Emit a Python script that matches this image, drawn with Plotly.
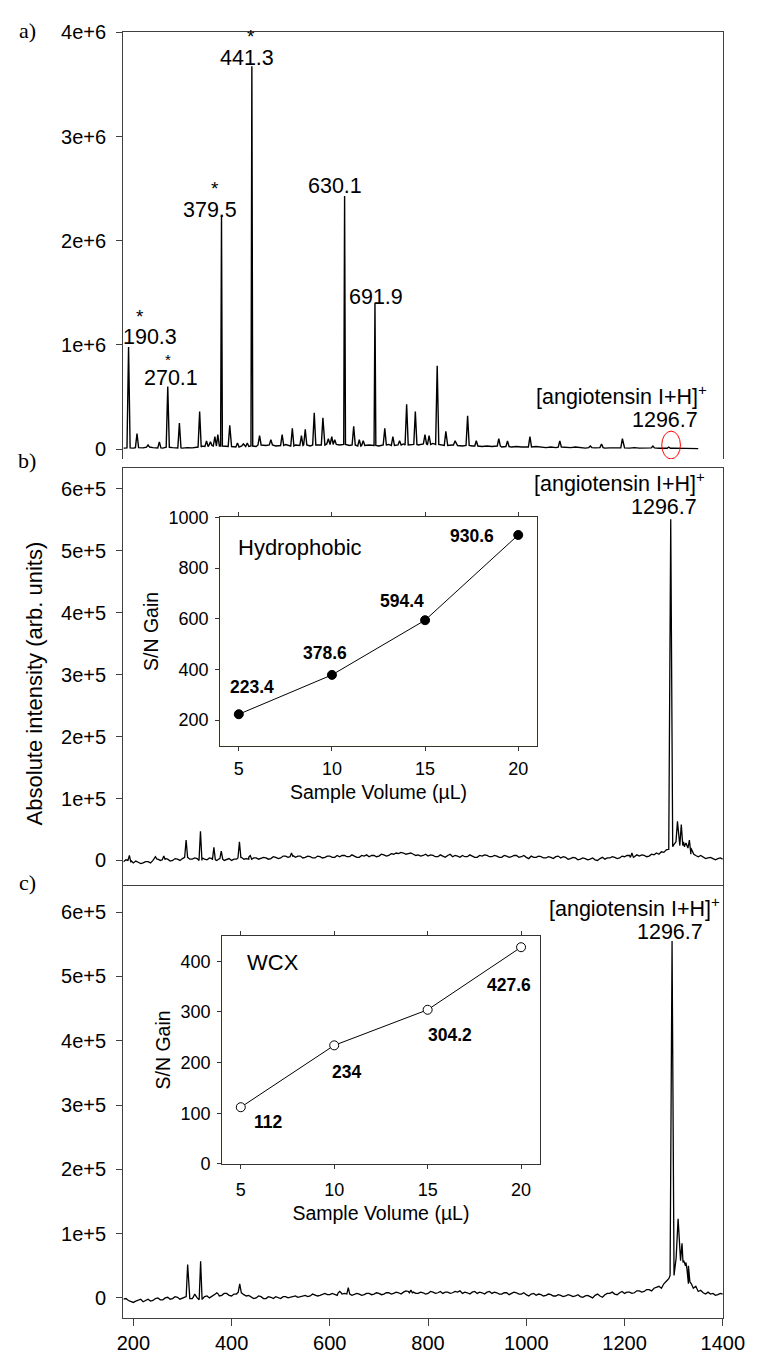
import plotly.graph_objects as go

W, H = 766, 1365

# ---------------- DATA ----------------
# Panel a: MALDI spectrum, intensity in units of 1e6
a_base_mz = list(range(180, 1351, 10))
a_base_int = [
    0.010, 0.012, 0.010, 0.015, 0.012, 0.020, 0.015, 0.012, 0.010, 0.018,
    0.015, 0.012, 0.010, 0.015, 0.012, 0.020, 0.030, 0.025, 0.035, 0.030,
    0.030, 0.030, 0.025, 0.020, 0.030, 0.025, 0.030, 0.025, 0.040, 0.035,
    0.040, 0.030, 0.035, 0.045, 0.030, 0.040, 0.035, 0.040, 0.030, 0.040,
    0.045, 0.040, 0.050, 0.045, 0.040, 0.045, 0.035, 0.040, 0.030, 0.035,
    0.040, 0.035, 0.030, 0.040, 0.045, 0.035, 0.040, 0.050, 0.040, 0.045,
    0.040, 0.050, 0.045, 0.055, 0.045, 0.040, 0.035, 0.040, 0.035, 0.030,
    0.035, 0.030, 0.030, 0.025, 0.030, 0.025, 0.030, 0.020, 0.025, 0.020,
    0.025, 0.020, 0.025, 0.020, 0.025, 0.020, 0.015, 0.020, 0.015, 0.020,
    0.015, 0.015, 0.020, 0.015, 0.010, 0.015, 0.012, 0.015, 0.010, 0.012,
    0.012, 0.010, 0.012, 0.010, 0.015, 0.010, 0.008, 0.010, 0.012, 0.008,
    0.010, 0.008, 0.010, 0.008, 0.006, 0.008, 0.006, 0.005,
]
a_peak_mz = [190.3, 207.5, 230, 253, 270.1, 293.8, 335, 349, 357, 366, 372, 379.5,
             396.3, 412, 424, 432, 441.3, 457, 480, 503, 523.7, 542.2, 550, 568.3,
             585.9, 597, 604, 610, 630.1, 648.6, 660, 668, 691.9, 711.9, 728.4, 742,
             756.4, 774.1, 793.7, 802.1, 818.6, 836.2, 855, 880.5, 898.2, 944, 961.7,
             1007.4, 1068.2, 1130.3, 1153.1, 1195.6, 1257.7, 1290]
a_peak_int = [0.98, 0.15, 0.04, 0.07, 0.60, 0.25, 0.36, 0.08, 0.07, 0.12, 0.14, 2.24,
              0.23, 0.06, 0.05, 0.06, 3.675, 0.13, 0.09, 0.14, 0.20, 0.13, 0.19, 0.35,
              0.30, 0.10, 0.12, 0.09, 2.43, 0.22, 0.09, 0.08, 1.40, 0.20, 0.12, 0.08,
              0.43, 0.36, 0.14, 0.13, 0.80, 0.17, 0.08, 0.32, 0.08, 0.10, 0.08,
              0.12, 0.08, 0.03, 0.05, 0.10, 0.03, 0.02]
a_labelled = [190.3, 270.1, 379.5, 441.3, 630.1, 691.9]
a_starred = [190.3, 270.1, 379.5, 441.3]

# Panel b: after hydrophobic enrichment, intensity in units of 1e5 (baseline every 5 m/z)
b_base_mz = list(range(180, 1401, 5))
b_base_int = [
    -0.02, 0.01, 0.00, -0.03, -0.04, -0.01, -0.03, -0.05, -0.04, -0.02,
    -0.02, -0.04, 0.00, 0.02, 0.02, 0.00, 0.01, 0.03, 0.02, -0.01,
    0.00, 0.03, 0.02, 0.00, 0.03, 0.05, 0.05, 0.02, 0.02, 0.04,
    0.03, 0.00, 0.04, 0.02, 0.01, 0.04, 0.03, 0.01, 0.00, 0.03,
    0.02, 0.00, 0.01, 0.03, 0.00, 0.02, 0.02, 0.04, 0.05, 0.02,
    0.03, 0.05, 0.02, 0.04, 0.04, 0.02, 0.03, 0.05, 0.04, 0.02,
    0.03, 0.06, 0.05, 0.03, 0.04, 0.07, 0.07, 0.05, 0.06, 0.08,
    0.05, 0.07, 0.07, 0.04, 0.05, 0.07, 0.06, 0.04, 0.04, 0.07,
    0.06, 0.04, 0.05, 0.07, 0.07, 0.05, 0.05, 0.08, 0.06, 0.08,
    0.08, 0.06, 0.06, 0.09, 0.07, 0.05, 0.05, 0.08, 0.07, 0.09,
    0.06, 0.08, 0.08, 0.06, 0.07, 0.10, 0.09, 0.07, 0.08, 0.11,
    0.10, 0.12, 0.11, 0.13, 0.12, 0.10, 0.11, 0.12, 0.10, 0.08,
    0.09, 0.07, 0.08, 0.10, 0.07, 0.09, 0.08, 0.06, 0.06, 0.09,
    0.07, 0.05, 0.08, 0.10, 0.06, 0.08, 0.07, 0.05, 0.08, 0.06,
    0.06, 0.09, 0.07, 0.05, 0.05, 0.08, 0.07, 0.09, 0.08, 0.06,
    0.06, 0.08, 0.07, 0.05, 0.05, 0.08, 0.07, 0.05, 0.06, 0.08,
    0.08, 0.05, 0.06, 0.08, 0.05, 0.03, 0.07, 0.05, 0.05, 0.07,
    0.06, 0.04, 0.04, 0.06, 0.05, 0.03, 0.06, 0.07, 0.04, 0.06,
    0.05, 0.02, 0.03, 0.05, 0.04, 0.01, 0.02, 0.04, 0.03, 0.01,
    0.02, 0.04, 0.01, 0.00, 0.03, 0.05, 0.02, 0.04, 0.04, 0.06,
    0.05, 0.03, 0.04, 0.07, 0.06, 0.08, 0.08, 0.05, 0.06, 0.09,
    0.07, 0.09, 0.08, 0.06, 0.07, 0.10, 0.09, 0.12, 0.10, 0.14,
    0.13, 0.17, 0.18, 0.22, 0.25, 0.28, 0.30, 0.24, 0.25, 0.22,
    0.20, 0.15, 0.10, 0.08, 0.06, 0.08, 0.05, 0.03, 0.04, 0.05,
    0.03, 0.01, 0.03, 0.04, 0.02,
]
b_peak_mz = [192, 245, 262, 307.5, 336.7, 364, 379, 416, 438, 522, 1215,
             1294, 1307.7, 1315.5, 1320, 1325, 1332, 1338]
b_peak_int = [0.08, 0.06, 0.07, 0.33, 0.47, 0.21, 0.15, 0.30, 0.08, 0.12, 0.12,
              5.51, 0.63, 0.58, 0.30, 0.28, 0.33, 0.15]

# Panel c: after WCX enrichment, intensity in units of 1e5 (baseline every 5 m/z)
c_base_mz = list(range(180, 1401, 5))
c_base_int = [
    -0.02, -0.01, -0.04, -0.06, -0.07, -0.05, -0.04, -0.02, -0.06, -0.04,
    -0.02, -0.05, -0.04, -0.01, 0.00, -0.03, -0.03, 0.00, 0.01, -0.02,
    -0.01, 0.02, 0.01, -0.02, 0.00, 0.02, 0.02, -0.01, -0.01, 0.01,
    0.00, -0.03, -0.02, 0.02, 0.03, 0.00, 0.02, 0.05, 0.06, 0.03,
    0.04, 0.07, 0.07, 0.04, 0.03, 0.06, 0.06, 0.09, 0.08, 0.05,
    0.03, 0.04, 0.02, -0.01, 0.00, 0.03, 0.02, -0.01, -0.01, 0.02,
    0.01, -0.01, 0.02, 0.00, -0.01, 0.02, 0.02, 0.00, 0.01, 0.03,
    0.03, 0.01, 0.02, 0.04, 0.04, 0.02, 0.03, 0.06, 0.05, 0.03,
    0.04, 0.06, 0.07, 0.05, 0.05, 0.07, 0.06, 0.04, 0.08, 0.06,
    0.07, 0.09, 0.06, 0.04, 0.05, 0.07, 0.06, 0.04, 0.05, 0.07,
    0.07, 0.05, 0.06, 0.08, 0.07, 0.05, 0.06, 0.08, 0.08, 0.06,
    0.07, 0.09, 0.08, 0.06, 0.09, 0.11, 0.10, 0.08, 0.09, 0.07,
    0.07, 0.09, 0.08, 0.06, 0.07, 0.10, 0.09, 0.07, 0.08, 0.10,
    0.07, 0.09, 0.09, 0.07, 0.08, 0.10, 0.09, 0.11, 0.07, 0.09,
    0.08, 0.06, 0.09, 0.10, 0.07, 0.09, 0.08, 0.06, 0.09, 0.10,
    0.07, 0.09, 0.08, 0.06, 0.06, 0.08, 0.08, 0.05, 0.07, 0.09,
    0.08, 0.06, 0.06, 0.08, 0.05, 0.03, 0.06, 0.07, 0.04, 0.06,
    0.05, 0.03, 0.04, 0.06, 0.05, 0.03, 0.03, 0.05, 0.04, 0.02,
    0.03, 0.05, 0.04, 0.02, 0.03, 0.05, 0.02, 0.01, 0.03, 0.04,
    0.02, 0.00, 0.04, 0.06, 0.03, 0.01, 0.05, 0.07, 0.07, 0.09,
    0.06, 0.05, 0.08, 0.10, 0.07, 0.09, 0.09, 0.07, 0.08, 0.11,
    0.11, 0.09, 0.10, 0.13, 0.13, 0.11, 0.15, 0.17, 0.18, 0.15,
    0.22, 0.26, 0.30, 0.35, 0.60, 0.62, 0.60, 0.58, 0.55, 0.50,
    0.30, 0.22, 0.15, 0.18, 0.10, 0.12, 0.08, 0.06, 0.09, 0.06,
    0.07, 0.04, 0.05, 0.07, 0.06,
]
c_peak_mz = [310.6, 325, 337, 370, 416.6, 620, 637.6, 765,
             1296.7, 1309, 1317, 1322, 1327, 1333]
c_peak_int = [0.52, 0.06, 0.57, 0.08, 0.22, 0.10, 0.16, 0.12,
              5.55, 1.23, 0.85, 0.55, 0.45, 0.25]

angio_mz = 1296.7

# Insets: S/N gain vs sample volume
volume_ul = [5, 10, 15, 20]
sn_hydrophobic = [223.4, 378.6, 594.4, 930.6]
sn_wcx = [112, 234, 304.2, 427.6]

# Tick labels
a_tickvals = [0, 1, 2, 3, 4]
a_ticktext = ["0", "1e+6", "2e+6", "3e+6", "4e+6"]
bc_tickvals = [0, 1, 2, 3, 4, 5, 6]
bc_ticktext = ["0", "1e+5", "2e+5", "3e+5", "4e+5", "5e+5", "6e+5"]
mz_ticks = [200, 400, 600, 800, 1000, 1200, 1400]


# ---------------- helpers ----------------
def spectrum(bx, by, px, py, w_big, w_small):
    """Merge read baseline points with read peak apexes into one polyline."""
    widths = [w_big if h >= 1 else w_small for h in py]
    pts = [(x, y) for x, y in zip(bx, by)
           if not any(c - w < x < c + w for c, w in zip(px, widths))]
    for c, h, w in zip(px, py, widths):
        j = min(range(len(bx)), key=lambda i: abs(bx[i] - c))
        yb = by[j]
        pts += [(c - w, yb), (c, h), (c + w, yb)]
    pts.sort()
    return [p[0] for p in pts], [p[1] for p in pts]


FONT = "Liberation Sans, Arial, sans-serif"
SERIF = "Liberation Serif, Times New Roman, serif"
AX = "#404040"

XD = [121.7 / W, 744 / W]
XR = [179.5, 1400]


def ydom(top_px, bot_px):
    return [1 - bot_px / H, 1 - top_px / H]


fig = go.Figure()

ax_, ay_ = spectrum(a_base_mz, a_base_int, a_peak_mz, a_peak_int, 1.8, 3.2)
bx_, by_ = spectrum(b_base_mz, b_base_int, b_peak_mz, b_peak_int, 4.0, 3.0)
cx_, cy_ = spectrum(c_base_mz, c_base_int, c_peak_mz, c_peak_int, 4.0, 3.0)

fig.add_trace(go.Scatter(x=ax_, y=ay_, mode="lines", line=dict(color="black", width=1.4),
                         xaxis="x", yaxis="y", hoverinfo="skip"))
fig.add_trace(go.Scatter(x=bx_, y=by_, mode="lines", line=dict(color="black", width=1.3),
                         xaxis="x2", yaxis="y2", hoverinfo="skip"))
fig.add_trace(go.Scatter(x=cx_, y=cy_, mode="lines", line=dict(color="black", width=1.3),
                         xaxis="x3", yaxis="y3", hoverinfo="skip"))

# insets
fig.add_trace(go.Scatter(x=volume_ul, y=sn_hydrophobic, mode="lines+markers",
                         line=dict(color="black", width=1),
                         marker=dict(size=9, color="black", line=dict(color="black", width=1)),
                         xaxis="x4", yaxis="y4", hoverinfo="skip"))
fig.add_trace(go.Scatter(x=volume_ul, y=sn_wcx, mode="lines+markers",
                         line=dict(color="black", width=1),
                         marker=dict(size=9, color="white", line=dict(color="black", width=1)),
                         xaxis="x5", yaxis="y5", hoverinfo="skip"))

tickfont = dict(family=FONT, size=20, color="black")

common_y = dict(showline=True, linecolor=AX, linewidth=1.3, mirror=True, ticks="outside",
                ticklen=6, tickcolor=AX, tickwidth=1.3, showgrid=False, zeroline=False,
                tickfont=tickfont, ticklabelstandoff=6)

layout = dict(
    width=W, height=H, margin=dict(l=0, r=0, t=0, b=0),
    paper_bgcolor="white", plot_bgcolor="white", showlegend=False,
    # panel a
    xaxis=dict(domain=XD, range=XR, anchor="y", side="top", showline=True, linecolor=AX,
               linewidth=1.3, ticks="", showticklabels=False, showgrid=False, zeroline=False),
    yaxis=dict(domain=ydom(21.7, 455), range=[-0.0945, 4.0], anchor="x",
               tickvals=a_tickvals, ticktext=a_ticktext, **common_y),
    # panel b
    xaxis2=dict(domain=XD, range=XR, anchor="y2", side="top", showline=True, linecolor=AX,
                linewidth=1.3, ticks="", showticklabels=False, showgrid=False, zeroline=False),
    yaxis2=dict(domain=ydom(464, 889), range=[-0.418, 6.339], anchor="x2",
                tickvals=bc_tickvals, ticktext=bc_ticktext, **common_y),
    # panel c
    xaxis3=dict(domain=XD, range=XR, anchor="y3", showline=True, linecolor=AX, linewidth=1.3,
                mirror=True, ticks="outside", ticklen=7, tickcolor=AX, tickwidth=1.3,
                tickvals=mz_ticks, tickfont=tickfont, showgrid=False, zeroline=False,
                ticklabeloverflow="allow"),
    yaxis3=dict(domain=ydom(889, 1327), range=[-0.306, 6.401], anchor="x3",
                tickvals=bc_tickvals, ticktext=bc_ticktext, **common_y),
)

inset_font = dict(family=FONT, size=18, color="black")
title_font = dict(family=FONT, size=19.5, color="black")


def inset_axes(xdom, ydomain, yr, ytv, xstand):
    xa = dict(domain=xdom, range=[4, 21], showline=True, linecolor="#333", linewidth=1,
              mirror="ticks", ticks="outside", ticklen=4, tickcolor="#333",
              tickvals=volume_ul, tickfont=inset_font, showgrid=False, zeroline=False,
              ticklabelstandoff=xstand,
              title=dict(text="Sample Volume (\u00b5L)", font=title_font, standoff=7))
    ya = dict(domain=ydomain, range=yr, showline=True, linecolor="#333", linewidth=1,
              mirror=True, ticks="outside", ticklen=4, tickcolor="#333",
              tickvals=ytv, tickfont=inset_font, showgrid=False, zeroline=False,
              ticklabelstandoff=3,
              title=dict(text="S/N Gain", font=title_font, standoff=4))
    return xa, ya


xa4, ya4 = inset_axes([222.3 / W, 551 / W], ydom(514.3, 746), [100, 1000],
                      [200, 400, 600, 800, 1000], 3)
xa4["anchor"] = "y4"; ya4["anchor"] = "x4"
xa5, ya5 = inset_axes([224.3 / W, 554 / W], ydom(939.3, 1171), [0, 450],
                      [0, 100, 200, 300, 400], 5)
xa5["anchor"] = "y5"; ya5["anchor"] = "x5"
layout.update(xaxis4=xa4, yaxis4=ya4, xaxis5=xa5, yaxis5=ya5)
fig.update_layout(**layout)

# inset backgrounds
for xr, yr in (("x4", "y4"), ("x5", "y5")):
    fig.add_shape(type="rect", xref=f"{xr} domain", yref=f"{yr} domain", x0=0, x1=1, y0=0, y1=1,
                  fillcolor="#FFFFB3", line=dict(width=0), layer="below")

# red ellipse around the angiotensin position in panel a
fig.add_shape(type="circle", xref="x", yref="y", x0=angio_mz - 21, x1=angio_mz + 17,
              y0=-0.094, y1=0.173, line=dict(color="red", width=1))

ann = []
C = dict(xanchor="center", yanchor="middle", showarrow=False)
lab_font = dict(family=FONT, size=21.5, color="black")
# peak labels (offsets in px relative to the apex)
a_lab_shift = {190.3: (21.5, 9.8), 270.1: (2.9, 8.2), 379.5: (-11.7, 6.2),
               441.3: (-5, 8.4), 630.1: (-9.6, 9.5), 691.9: (1.4, 5.8)}
# star offset (x shift, gap above label, font size)
a_star = {190.3: (11.1, 21, 19), 270.1: (0.4, 19, 15), 379.5: (-6.4, 21, 19),
          441.3: (-0.9, 21, 19)}
for mz in a_labelled:
    h = a_peak_int[a_peak_mz.index(mz)]
    dx, dy = a_lab_shift[mz]
    ann.append(dict(x=mz, y=h, xref="x", yref="y", text=f"{mz:.1f}",
                    xshift=dx, yshift=dy, font=lab_font, **C))
for mz in a_starred:
    h = a_peak_int[a_peak_mz.index(mz)]
    sdx, gap, fs = a_star[mz]
    ann.append(dict(x=mz, y=h, xref="x", yref="y", text="*",
                    xshift=sdx, yshift=a_lab_shift[mz][1] + gap,
                    font=dict(family=FONT, size=fs, color="black"), **C))

angio_txt = "[angiotensin I+H]<sup>+</sup>"
R = dict(xanchor="right", yanchor="middle", showarrow=False)
# panel a
ann.append(dict(x=angio_mz, y=0.5197, xref="x", yref="y", text=angio_txt,
                xshift=36.7, font=lab_font, **R))
ann.append(dict(x=angio_mz, y=0.2835, xref="x", yref="y", text=f"{angio_mz:.1f}",
                xshift=27.7, font=lab_font, **R))
# panel b
hb = b_peak_int[b_peak_mz.index(1294)]
ann.append(dict(x=angio_mz, y=hb, xref="x2", yref="y2", text=angio_txt,
                xshift=35.1, yshift=37, font=lab_font, **R))
ann.append(dict(x=angio_mz, y=hb, xref="x2", yref="y2", text=f"{angio_mz:.1f}",
                xshift=26.7, yshift=12, font=lab_font, **R))
# panel c
hc = c_peak_int[c_peak_mz.index(angio_mz)]
ann.append(dict(x=angio_mz, y=hc, xref="x3", yref="y3", text=angio_txt,
                xshift=50.1, yshift=34.5, font=lab_font, **R))
ann.append(dict(x=angio_mz, y=hc, xref="x3", yref="y3", text=f"{angio_mz:.1f}",
                xshift=32.7, yshift=9.5, font=lab_font, **R))

# inset value labels
bold = dict(family=FONT, size=17.5, color="black")
hyd_shift = [(13.4, 27.5), (-6.6, 21.6), (-23.3, 19.4), (-46.7, -1)]
wcx_shift = [(28, -15), (12.7, -26.2), (22.4, -25.6), (-11.8, -37.5)]
for v, s, (dx, dy) in zip(volume_ul, sn_hydrophobic, hyd_shift):
    ann.append(dict(x=v, y=s, xref="x4", yref="y4", text=f"<b>{s:g}</b>",
                    xshift=dx, yshift=dy, font=bold, **C))
for v, s, (dx, dy) in zip(volume_ul, sn_wcx, wcx_shift):
    ann.append(dict(x=v, y=s, xref="x5", yref="y5", text=f"<b>{s:g}</b>",
                    xshift=dx, yshift=dy, font=bold, **C))
ann.append(dict(x=0.2516, y=0.8675, xref="x4 domain", yref="y4 domain", text="Hydrophobic",
                font=dict(family=FONT, size=22, color="black"), **C))
ann.append(dict(x=0.161, y=0.882, xref="x5 domain", yref="y5 domain", text="WCX",
                font=dict(family=FONT, size=22, color="black"), **C))

# axis title and panel letters
ann.append(dict(x=30 / W, y=1 - 683 / H, xref="paper", yref="paper",
                text="Absolute intensity (arb. units)", textangle=-90,
                font=dict(family=FONT, size=22, color="black"), **C))
for letter, ypx in (("a)", 20), ("b)", 457), ("c)", 885)):
    ann.append(dict(x=22 / W, y=1 - ypx / H, xref="paper", yref="paper", text=letter,
                    font=dict(family=SERIF, size=22, color="black"), **C))

fig.update_layout(annotations=ann)
fig.write_html("out.html")
